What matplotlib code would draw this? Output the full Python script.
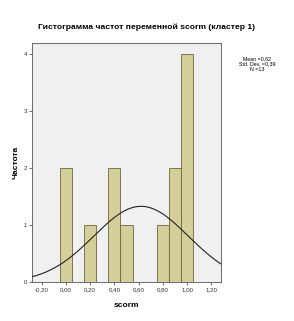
import numpy as np
import matplotlib
matplotlib.use("Agg")
import matplotlib.pyplot as plt

bin_centers = [0.0, 0.2, 0.4, 0.5, 0.8, 0.9, 1.0]
counts = [2, 1, 2, 1, 1, 2, 4]
bin_width = 0.1
mean, std, n = 0.62, 0.39, 13
x_ticks = [-0.2, 0.0, 0.2, 0.4, 0.6, 0.8, 1.0, 1.2]
y_ticks = [0, 1, 2, 3, 4]

plt.rcParams['font.family'] = ['Liberation Sans', 'DejaVu Sans']

fig = plt.figure(figsize=(2.94, 3.21), dpi=100)
ax = fig.add_axes([32/294, 1-282/321, (221-32)/294, (282-43)/321])
ax.set_facecolor('#F0F0F0')
ax.bar(bin_centers, counts, width=bin_width, color='#D4CF98', edgecolor='#6B6640', linewidth=0.6, zorder=2)

xs = np.linspace(-0.28, 1.28, 300)
ys = n * bin_width / (std * np.sqrt(2*np.pi)) * np.exp(-0.5*((xs-mean)/std)**2)
ax.plot(xs, ys, color='#222222', linewidth=0.8, zorder=3)

ax.set_xlim(-0.28, 1.28)
ax.set_ylim(0, 4.2)
ax.set_xticks(x_ticks)
ax.set_xticklabels([f"{v:.2f}".replace('.', ',') for v in x_ticks])
ax.set_yticks(y_ticks)
ax.tick_params(labelsize=4.4, length=2, width=0.5, pad=1.5, colors='#333333')
for s in ax.spines.values():
    s.set_linewidth(0.6)
    s.set_color('#555555')

ax.set_xlabel('scorm', fontsize=6, fontweight='bold', labelpad=7)
ax.set_ylabel('Частота', fontsize=6, fontweight='bold', labelpad=3)
fig.text(146/294, 1-27/321, 'Гистограмма частот переменной scorm (кластер 1)',
         ha='center', va='center', fontsize=6.1, fontweight='bold')
fig.text(257/294, 1-64/321, 'Mean =0,62\nStd. Dev. =0,39\nN =13', ha='center', va='center',
         fontsize=3.8, linespacing=1.05)

fig.savefig('out.png', dpi=100, facecolor='white')
